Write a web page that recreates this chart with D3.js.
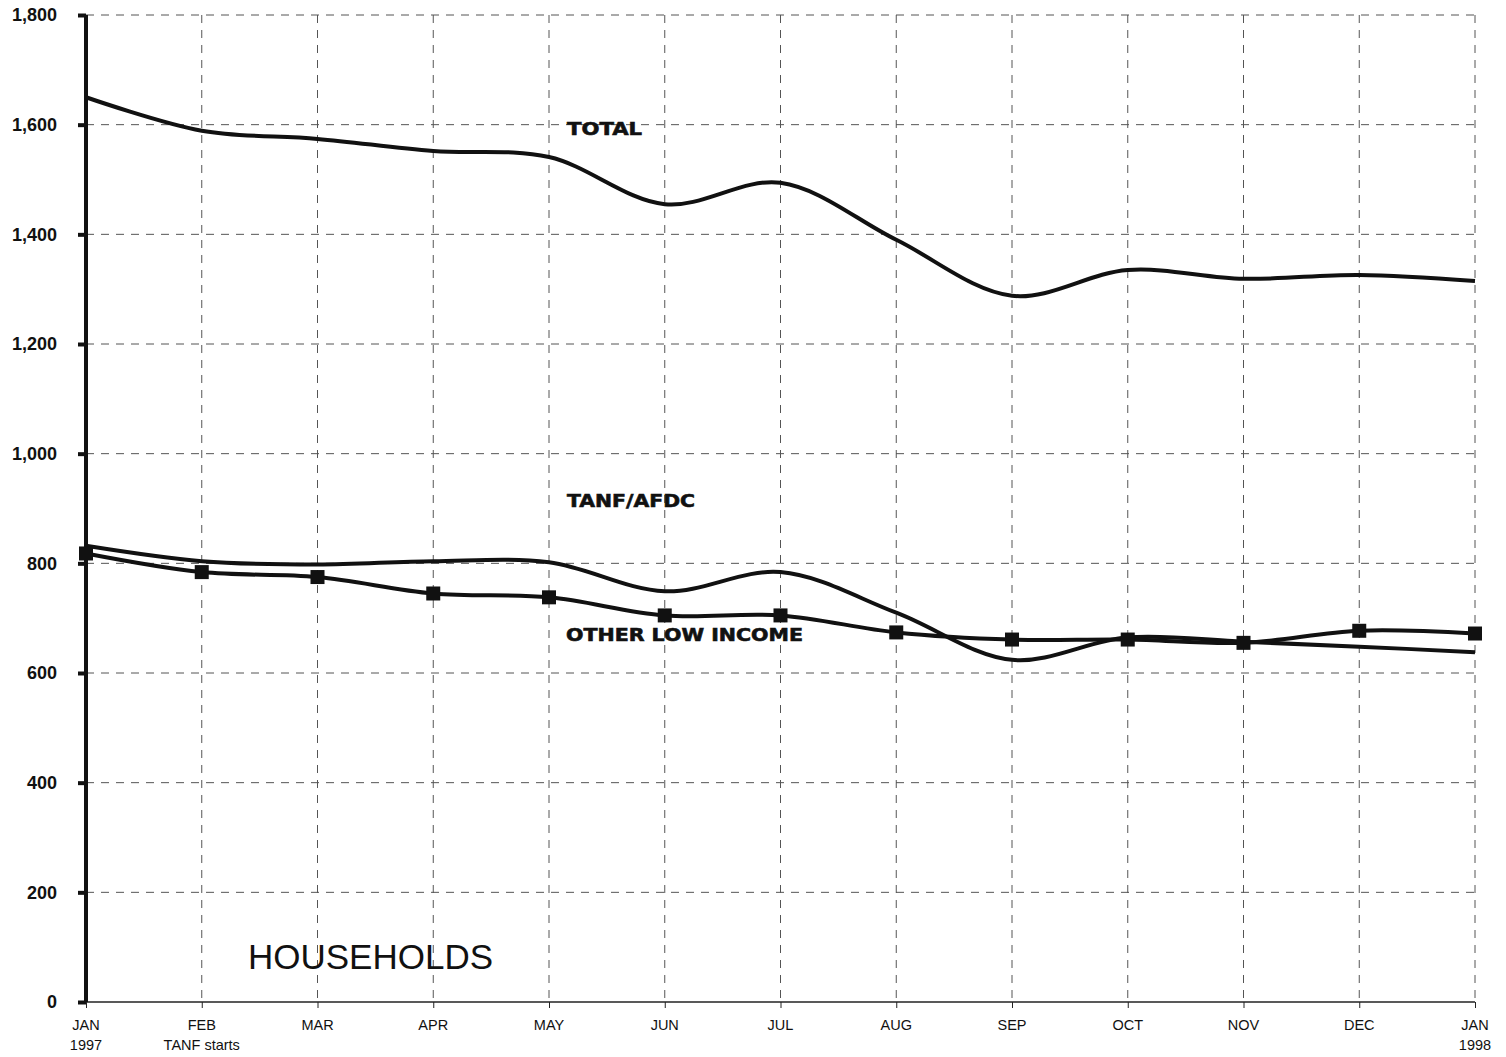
<!DOCTYPE html>
<html><head><meta charset="utf-8">
<script src="https://cdn.jsdelivr.net/npm/d3@7"></script>
<style>
body{margin:0;background:#fff;}
svg{display:block;}
</style></head>
<body>
<svg id="c" width="1506" height="1057"></svg>
<script>
const months = ["JAN","FEB","MAR","APR","MAY","JUN","JUL","AUG","SEP","OCT","NOV","DEC","JAN2"];
const monthLabels = [["JAN","1997"],["FEB","TANF starts"],["MAR"],["APR"],["MAY"],["JUN"],["JUL"],["AUG"],["SEP"],["OCT"],["NOV"],["DEC"],["JAN","1998"]];
const total = [1650,1589,1574,1552,1541,1455,1494,1390,1288,1335,1319,1326,1315];
const tanf  = [832,804,798,804,802,749,784,710,624,665,657,648,638];
const other = [818,784,775,745,738,705,705,674,661,661,655,677,672];
const yTicks = [0,200,400,600,800,1000,1200,1400,1600,1800];

const svg = d3.select("#c");
const x = d3.scalePoint().domain(months).range([86,1475]);
const y = d3.scaleLinear().domain([0,1800]).range([1002,15]);

// grid
const g = svg.append("g");
g.selectAll("line.h").data(yTicks.filter(d=>d>0)).join("line")
  .attr("x1",86).attr("x2",1475).attr("y1",d=>y(d)).attr("y2",d=>y(d))
  .attr("stroke","#555").attr("stroke-width",1).attr("stroke-dasharray","8,7");
g.selectAll("line.v").data(months.slice(1)).join("line")
  .attr("x1",d=>x(d)).attr("x2",d=>x(d)).attr("y1",15).attr("y2",1002)
  .attr("stroke","#555").attr("stroke-width",1).attr("stroke-dasharray","8,7");

// x axis
const xa = svg.append("g").attr("transform","translate(0,1002)")
  .call(d3.axisBottom(x).tickSize(6).tickFormat(""));
xa.select(".domain").attr("stroke","#222").attr("stroke-width",1.5).attr("d","M78,0H1475");
xa.selectAll(".tick line").attr("stroke","#222");
months.forEach((m,i)=>{
  const t = svg.append("text").attr("x",x(m)).attr("y",1030).attr("text-anchor","middle")
    .attr("font-family","Liberation Sans, Arial, sans-serif").attr("font-size",14.5).attr("fill","#111");
  monthLabels[i].forEach((s,j)=>t.append("tspan").attr("x",x(m)).attr("dy",j?20:0).text(s));
});

// y axis
const ya = svg.append("g").attr("transform","translate(86,0)")
  .call(d3.axisLeft(y).tickValues(yTicks).tickSize(8).tickPadding(21).tickFormat(d3.format(",")));
ya.select(".domain").attr("stroke","#111").attr("stroke-width",4).attr("d","M0,1002V15");
ya.selectAll(".tick line").attr("stroke","#111").attr("stroke-width",4);
ya.selectAll(".tick text").attr("font-family","Liberation Sans, Arial, sans-serif")
  .attr("font-size",18).attr("font-weight","bold").attr("fill","#111");

// lines
const line = d3.line().x((d,i)=>x(months[i])).y(d=>y(d)).curve(d3.curveCatmullRom.alpha(0.5));
[total,tanf,other].forEach(s=>{
  svg.append("path").datum(s).attr("d",line).attr("fill","none")
    .attr("stroke","#111").attr("stroke-width",4).attr("stroke-linejoin","round");
});
svg.selectAll("rect.m").data(other).join("rect")
  .attr("x",(d,i)=>x(months[i])-7).attr("y",d=>y(d)-7).attr("width",14).attr("height",14)
  .attr("fill","#111");

// labels
const lab = (t,xx,yy,w)=>svg.append("text").attr("x",xx).attr("y",yy)
  .attr("font-family","DejaVu Sans, sans-serif").attr("font-weight","bold").attr("font-size",17)
  .attr("textLength",w).attr("lengthAdjust","spacingAndGlyphs").attr("fill","#111")
  .attr("stroke","#111").attr("stroke-width",0.6).text(t);
lab("TOTAL",567,135,75);
lab("TANF/AFDC",567,507,128);
lab("OTHER LOW INCOME",566,641,237);
svg.append("text").attr("x",248).attr("y",969).attr("font-family","Liberation Sans, Arial, sans-serif")
  .attr("font-size",35).attr("fill","#111").text("HOUSEHOLDS");
</script>
</body></html>
